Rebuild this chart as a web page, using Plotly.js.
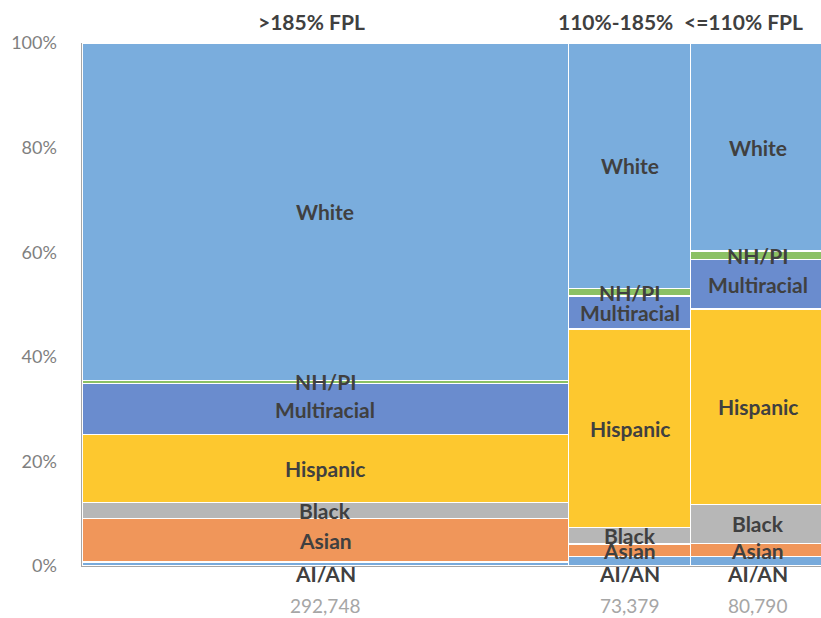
<!DOCTYPE html>
<html>
<head>
<meta charset="utf-8">
<script src="https://cdn.plot.ly/plotly-3.0.1.min.js"></script>
<style>html,body{margin:0;padding:0;background:#fff;overflow:hidden}#chart{width:821px;height:618px}</style>
</head>
<body>
<div id="chart"></div>
<script>
var groups = ['>185% FPL', '110%-185%', '<=110% FPL'];
var counts = [292748, 73379, 80790];
var countLabels = ['292,748', '73,379', '80,790'];
var categories = ['AI/AN', 'Asian', 'Black', 'Hispanic', 'Multiracial', 'NH/PI', 'White'];
var aian        = [0.8, 1.8, 1.8];
var asian       = [8.3, 2.4, 2.5];
var black       = [3.0, 3.2, 7.5];
var hispanic    = [13.0, 37.9, 37.3];
var multiracial = [9.8, 6.3, 9.5];
var nhpi        = [0.6, 1.5, 1.6];
var white       = [64.5, 46.9, 39.8];
var colors = ['#78aadb', '#f0965a', '#b7b7b7', '#fdc82f', '#6a8cce', '#8cc164', '#7aaddd'];

var series = [aian, asian, black, hispanic, multiracial, nhpi, white];

// x centers from cumulative widths
var centers = [], acc = 0;
counts.forEach(function (c) { centers.push(acc + c / 2); acc += c; });

var traces = categories.map(function (cat, i) {
  return {
    type: 'bar',
    name: cat,
    x: centers,
    y: series[i].map(function (v) { return v / 100; }),
    width: counts,
    marker: { color: colors[i], line: { color: '#ffffff', width: 1.5 } },
    hoverinfo: 'name+y',
    showlegend: false
  };
});

var labelFont = { family: 'Lato, "Open Sans", sans-serif', size: 21, color: '#404040', weight: 'bold' };
var annotations = [];
for (var g = 0; g < groups.length; g++) {
  var base = 0;
  for (var i = 0; i < categories.length; i++) {
    var v = series[i][g] / 100;
    var a = {
      x: centers[g], xref: 'x', y: base + v / 2, yref: 'y',
      text: '<b>' + categories[i] + '</b>', showarrow: false, font: labelFont
    };
    if (categories[i] === 'AI/AN') { a.y = 0; a.yanchor = 'middle'; a.yshift = -7; }
    annotations.push(a);
    base += v;
  }
  annotations.push({
    x: centers[g], xref: 'x', y: 1, yref: 'paper', yanchor: 'middle', yshift: 22, xshift: -14,
    text: '<b>' + groups[g] + '</b>', showarrow: false, font: labelFont
  });
  annotations.push({
    x: centers[g], xref: 'x', y: 0, yref: 'paper', yanchor: 'middle', yshift: -39,
    text: countLabels[g], showarrow: false,
    font: { family: 'Lato, "Open Sans", sans-serif', size: 19, color: '#a6a6a6' }
  });
}

var layout = {
  width: 821, height: 618,
  margin: { l: 82, r: 0, t: 43, b: 52 },
  paper_bgcolor: '#ffffff', plot_bgcolor: '#ffffff',
  barmode: 'stack', bargap: 0,
  xaxis: {
    range: [0, 444500], showticklabels: false, showgrid: false, zeroline: false,
    showline: true, linecolor: '#a6a6a6', linewidth: 1, fixedrange: true
  },
  yaxis: {
    range: [0, 1], tickvals: [0, 0.2, 0.4, 0.6, 0.8, 1],
    ticktext: ['0%', '20%', '40%', '60%', '80%', '100%'],
    showgrid: false, zeroline: false, showline: true, linecolor: '#a6a6a6', linewidth: 1.5,
    ticks: '', ticklabelstandoff: 20,
    tickfont: { family: 'Lato, "Open Sans", sans-serif', size: 18, color: '#7f7f7f' }
  },
  annotations: annotations,
  font: { family: 'Lato, "Open Sans", sans-serif' }
};

Plotly.newPlot('chart', traces, layout, { displayModeBar: false, staticPlot: true });
</script>
</body>
</html>
